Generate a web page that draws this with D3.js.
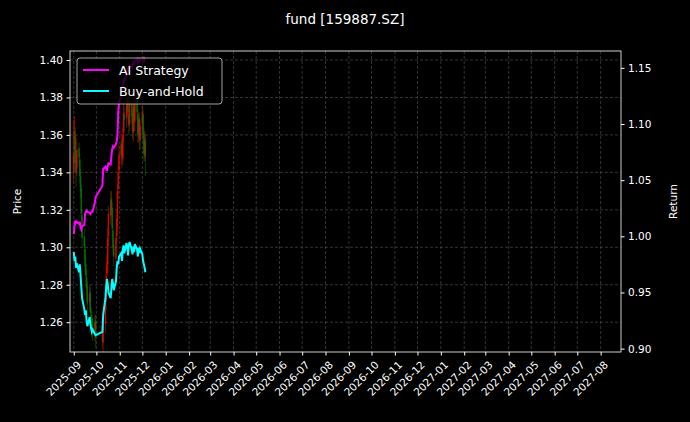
<!DOCTYPE html>
<html><head><meta charset="utf-8">
<script src="https://cdn.jsdelivr.net/npm/d3@7"></script>
<style>body{margin:0;background:#000}svg{display:block;font-family:"DejaVu Sans",sans-serif}</style>
</head><body><svg width="690" height="422"></svg>
<script>
var openP = [1.340,1.352,1.360,1.346,1.342,1.353,1.347,1.338,1.331,1.317,1.306,1.299,1.291,1.284,1.279,1.271,1.276,1.264,1.263,1.259,1.254,1.261,
  1.255,1.249,1.259,1.271,1.286,1.291,1.306,1.317,1.326,1.321,1.309,1.301,1.294,1.306,1.314,1.331,1.341,
  1.349,1.356,1.347,1.361,1.371,1.369,1.374,1.381,1.371,1.366,1.377,1.371,1.361,1.376,1.367,1.381,1.371,1.361,1.369,1.357,
  1.366,1.371,1.361,1.349,1.357];
var closeP = [1.350,1.362,1.345,1.340,1.352,1.348,1.338,1.330,1.318,1.305,1.300,1.290,1.285,1.278,1.270,1.275,1.265,1.262,1.258,1.255,1.260,1.252,
  1.250,1.258,1.272,1.285,1.292,1.305,1.318,1.325,1.320,1.310,1.300,1.295,1.305,1.315,1.330,1.340,1.350,
  1.355,1.348,1.360,1.372,1.368,1.375,1.380,1.372,1.365,1.378,1.370,1.362,1.375,1.368,1.380,1.372,1.360,1.368,1.358,1.365,
  1.372,1.360,1.350,1.358,1.348];
var highP = [1.368,1.370,1.364,1.352,1.358,1.356,1.350,1.342,1.334,1.320,1.310,1.302,1.295,1.288,1.282,1.280,1.279,1.268,1.266,1.262,1.264,1.264,
  1.258,1.262,1.276,1.290,1.296,1.310,1.322,1.330,1.330,1.324,1.312,1.305,1.308,1.320,1.334,1.344,1.355,
  1.360,1.358,1.364,1.378,1.375,1.380,1.386,1.386,1.374,1.382,1.380,1.374,1.380,1.380,1.385,1.384,1.374,1.372,1.372,1.368,
  1.376,1.374,1.364,1.362,1.360];
var lowP = [1.334,1.345,1.340,1.332,1.338,1.343,1.334,1.326,1.314,1.300,1.294,1.285,1.279,1.272,1.264,1.266,1.260,1.255,1.252,1.250,1.250,1.246,
  1.246,1.244,1.254,1.266,1.282,1.286,1.300,1.312,1.316,1.306,1.296,1.290,1.290,1.302,1.310,1.326,1.336,
  1.344,1.342,1.344,1.356,1.362,1.364,1.370,1.368,1.360,1.362,1.366,1.358,1.356,1.362,1.362,1.368,1.356,1.356,1.352,1.352,
  1.362,1.356,1.346,1.346,1.338];
var strategy = [1.002,1.010,1.014,1.012,1.013,1.011,1.013,1.008,1.006,1.009,1.010,1.020,1.022,1.023,1.022,1.021,1.020,1.021,1.022,1.022,1.030,1.035,
  1.045,1.060,1.062,1.060,1.058,1.062,1.065,1.064,1.072,1.078,1.080,1.079,1.082,1.085,1.090,1.110,1.120,
  1.124,1.128,1.135,1.140,1.138,1.145,1.148,1.146,1.150,1.152,1.150,1.153,1.155,1.152,1.156,1.158,1.155,1.157,1.156,1.158,
  1.157,1.158,1.156,1.158,1.157];
var buyHold = [0.986,0.978,0.982,0.972,0.976,0.968,0.975,0.965,0.955,0.945,0.935,0.930,0.934,0.925,0.920,0.928,0.922,0.918,0.915,0.917,0.913,0.912,
  0.915,0.930,0.945,0.955,0.962,0.958,0.950,0.945,0.955,0.962,0.958,0.952,0.960,0.972,0.978,0.975,0.982,
  0.985,0.978,0.988,0.992,0.985,0.994,0.990,0.983,0.992,0.995,0.988,0.984,0.991,0.986,0.993,0.988,0.982,0.990,0.985,0.989,
  0.984,0.978,0.975,0.972,0.968];
var priceTicks = [1.26,1.28,1.30,1.32,1.34,1.36,1.38,1.40];
var returnTicks = [0.90,0.95,1.00,1.05,1.10,1.15];

// trading days: weekdays, skipping the October holiday
var dates = d3.timeDays(new Date(2025,8,1), new Date(2025,11,6))
  .filter(d => d.getDay() > 0 && d.getDay() < 6 && !(d.getMonth() == 9 && d.getDate() <= 8));

var margin = {left: 70, right: 69, top: 51, bottom: 70};
var W = 690, H = 422;
var svg = d3.select("svg");

var x = d3.scaleTime().domain([new Date(2025,7,27), new Date(2027,7,28)]).range([margin.left, W - margin.right]);
var yP = d3.scaleLinear().domain([1.2441, 1.4048]).range([H - margin.bottom, margin.top]);
var yR = d3.scaleLinear().domain([0.897, 1.165]).range([H - margin.bottom, margin.top]);
var months = d3.timeMonths(new Date(2025,8,1), new Date(2027,7,2));

// grid
var grid = svg.append("g").attr("stroke", "#555").attr("stroke-dasharray", "3,2").attr("stroke-width", 0.6);
grid.selectAll(".gx").data(months).enter().append("line")
  .attr("x1", d => x(d)).attr("x2", d => x(d)).attr("y1", margin.top).attr("y2", H - margin.bottom);
grid.selectAll(".gy").data(priceTicks).enter().append("line")
  .attr("x1", margin.left).attr("x2", W - margin.right).attr("y1", d => yP(d)).attr("y2", d => yP(d));

// candles
var candles = svg.append("g").selectAll("g").data(dates).enter().append("g")
  .attr("opacity", 0.85)
  .attr("stroke", (d, i) => closeP[i] >= openP[i] ? "#ff0000" : "#008000")
  .attr("fill", (d, i) => closeP[i] >= openP[i] ? "#ff0000" : "#008000");
candles.append("line").attr("stroke-width", 0.6)
  .attr("x1", d => x(d)).attr("x2", d => x(d))
  .attr("y1", (d, i) => yP(highP[i])).attr("y2", (d, i) => yP(lowP[i]));
candles.append("rect").attr("stroke", "none")
  .attr("x", d => x(d) - 0.7).attr("width", 1.4)
  .attr("y", (d, i) => yP(Math.max(openP[i], closeP[i])))
  .attr("height", (d, i) => Math.max(0.5, Math.abs(yP(openP[i]) - yP(closeP[i]))));

// return lines
var line = data => d3.line().x((d, i) => x(dates[i])).y(d => yR(d))(data);
svg.append("path").attr("d", line(strategy)).attr("fill", "none").attr("stroke", "#ff00ff").attr("stroke-width", 2);
svg.append("path").attr("d", line(buyHold)).attr("fill", "none").attr("stroke", "#00ffff").attr("stroke-width", 2);

// frame
svg.append("rect").attr("x", margin.left).attr("y", margin.top)
  .attr("width", W - margin.left - margin.right).attr("height", H - margin.top - margin.bottom)
  .attr("fill", "none").attr("stroke", "#fff").attr("stroke-width", 0.8);

function styleAxis(g) {
  g.select(".domain").remove();
  g.selectAll(".tick line").attr("stroke", "#fff");
  g.selectAll(".tick text").attr("fill", "#fff").attr("font-size", "10.5px").attr("font-family", "DejaVu Sans");
}
svg.append("g").attr("transform", `translate(${margin.left},0)`)
  .call(d3.axisLeft(yP).tickValues(priceTicks).tickFormat(d3.format(".2f")).tickSize(3.5).tickPadding(3.5)).call(styleAxis);
svg.append("g").attr("transform", `translate(${W - margin.right},0)`)
  .call(d3.axisRight(yR).tickValues(returnTicks).tickFormat(d3.format(".2f")).tickSize(3.5).tickPadding(3.5)).call(styleAxis);
var xa = svg.append("g").attr("transform", `translate(0,${H - margin.bottom})`)
  .call(d3.axisBottom(x).tickValues(months).tickFormat(d3.timeFormat("%Y-%m")).tickSize(3.5)).call(styleAxis);
xa.selectAll(".tick text").attr("text-anchor", "end").attr("dy", null)
  .attr("transform", "translate(3,9) rotate(-45)");

svg.append("text").attr("x", 345).attr("y", 24).attr("text-anchor", "middle")
  .attr("fill", "#fff").attr("font-size", "13.5px").text("fund [159887.SZ]");
svg.append("text").attr("transform", `translate(21,${(margin.top + H - margin.bottom) / 2}) rotate(-90)`)
  .attr("text-anchor", "middle").attr("fill", "#fff").attr("font-size", "10.5px").text("Price");
svg.append("text").attr("transform", `translate(677,${(margin.top + H - margin.bottom) / 2}) rotate(-90)`)
  .attr("text-anchor", "middle").attr("fill", "#fff").attr("font-size", "10.5px").text("Return");

// legend
var lg = svg.append("g").attr("transform", "translate(77,58)");
lg.append("rect").attr("width", 145).attr("height", 46).attr("rx", 3)
  .attr("fill", "#000").attr("fill-opacity", 0.8).attr("stroke", "#ccc").attr("stroke-width", 0.8);
[["AI Strategy", "#ff00ff"], ["Buy-and-Hold", "#00ffff"]].forEach((d, i) => {
  lg.append("line").attr("x1", 6).attr("x2", 32).attr("y1", 12 + i * 21).attr("y2", 12 + i * 21)
    .attr("stroke", d[1]).attr("stroke-width", 2);
  lg.append("text").attr("x", 42).attr("y", 16.5 + i * 21).attr("fill", "#fff").attr("font-size", "12.5px").text(d[0]);
});
</script></body></html>
